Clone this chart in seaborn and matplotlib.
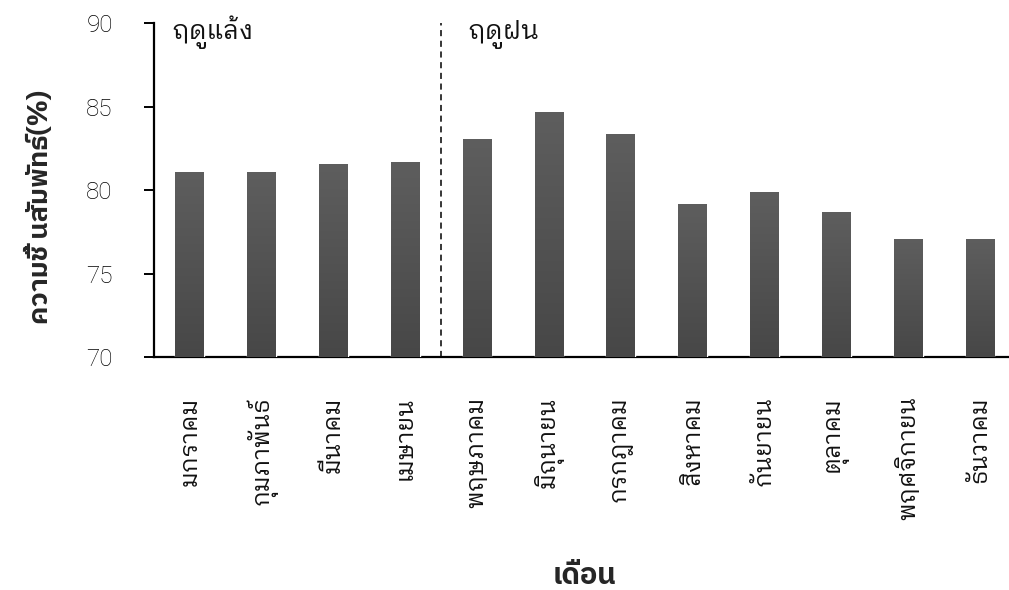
import matplotlib
matplotlib.use("Agg")
import matplotlib.pyplot as plt
import numpy as np
import seaborn as sns

months = ["มกราคม", "กุมภาพันธ์", "มีนาคม", "เมษายน", "พฤษภาคม", "มิถุนายน",
          "กรกฎาคม", "สิงหาคม", "กันยายน", "ตุลาคม", "พฤศจิกายน", "ธันวาคม"]
humidity = [81.1, 81.1, 81.6, 81.7, 83.1, 84.7, 83.4, 79.2, 79.9, 78.7, 77.1, 77.1]
season_labels = ["ฤดูแล้ง", "ฤดูฝน"]
yticks = [70, 75, 80, 85, 90]

sns.set_theme(style="white")
THAI = ["IBM Plex Sans Thai Looped", "DejaVu Sans"]
THAI_BOLD = ["IBM Plex Sans Thai", "DejaVu Sans"]
NUM = ["Roboto", "DejaVu Sans"]
plt.rcParams["font.family"] = THAI

fig = plt.figure(figsize=(10.09, 5.9), dpi=100)
W, H = 1009, 590
left, right, top, bottom = 153.8, 1016.0, 23.3, 357.3
ax = fig.add_axes([left / W, 1 - bottom / H, (right - left) / W, (bottom - top) / H])

sns.barplot(x=months, y=humidity, color="#545454", saturation=1, width=0.4,
            ax=ax, zorder=3)

# vertical gradient fill on every bar
grad = np.linspace(0, 1, 256).reshape(-1, 1)
cmap = matplotlib.colors.LinearSegmentedColormap.from_list("bar", ["#474747", "#5e5e5e"])
for p in list(ax.patches):
    x0, y0 = p.get_x(), p.get_y()
    w, h = p.get_width(), p.get_height()
    im = ax.imshow(grad, extent=[x0, x0 + w, 70, y0 + h], origin="lower",
                   cmap=cmap, aspect="auto", zorder=4)
    im.set_clip_path(p)

ax.set_xlim(-0.5, len(months) - 0.5)
ax.set_ylim(70, 90)
ax.set_yticks(yticks)
ax.set_yticklabels([str(v) for v in yticks], family=NUM, fontsize=17.5, fontweight="light",
                   color="#111111")

# season divider and labels
ax.axvline(3.5, color="black", linestyle=(0, (4, 3)), linewidth=1.1, zorder=5)
ax.text(-0.25, 89.05, season_labels[0], fontsize=18.5, family=THAI, fontweight="normal",
        va="baseline", ha="left", color="#111111")
ax.text(3.87, 89.05, season_labels[1], fontsize=18.5, family=THAI, fontweight="normal",
        va="baseline", ha="left", color="#111111")

for s in ["top", "right"]:
    ax.spines[s].set_visible(False)
for s in ["left", "bottom"]:
    ax.spines[s].set_color("black")
    ax.spines[s].set_linewidth(1.6)

ax.tick_params(axis="y", direction="out", length=7.5, width=1.4, pad=22, colors="black", left=True)
ax.tick_params(axis="x", length=0, pad=28)
for lab in ax.get_xticklabels():
    lab.set_rotation(90)
    lab.set_fontsize(17)
    lab.set_family(THAI)
    lab.set_fontweight("normal")
    lab.set_color("#111111")
    lab.set_va("top")
    lab.set_ha("center")

ax.set_xlabel("เดือน", fontsize=21, fontweight="bold", family=THAI_BOLD, va="center")
ax.set_ylabel("ความชื้ นสัมพัทธ์(%)", fontsize=19.5, fontweight="bold", family=THAI_BOLD,
              va="center")
ax.xaxis.set_label_coords(0.5, -0.655)
ax.yaxis.set_label_coords(-0.132, 0.45)

fig.savefig("out.png", dpi=100)
